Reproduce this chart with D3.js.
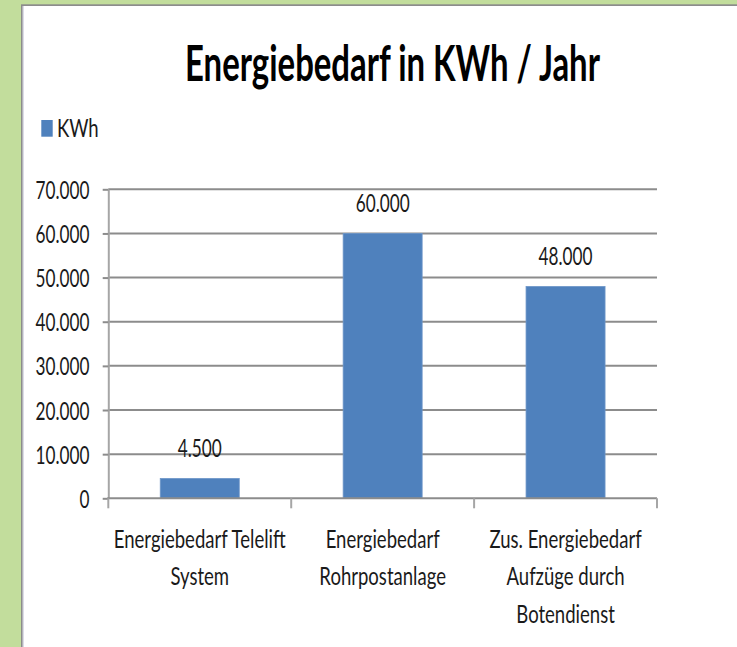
<!DOCTYPE html>
<html>
<head>
<meta charset="utf-8">
<script src="https://cdn.jsdelivr.net/npm/d3@7"></script>
<style>
  html, body { margin: 0; padding: 0; background: #ffffff; }
  svg { display: block; }
  text { font-family: Lato, "Open Sans", "Liberation Sans", sans-serif; fill: #1a1a1a; }
</style>
</head>
<body>
<svg id="chart" width="737" height="647"></svg>
<script>
// ---- data ----
const categories = ["Energiebedarf Telelift System", "Energiebedarf Rohrpostanlage", "Zus. Energiebedarf Aufzüge durch Botendienst"];
const categoryLines = [["Energiebedarf Telelift", "System"], ["Energiebedarf", "Rohrpostanlage"], ["Zus. Energiebedarf", "Aufzüge durch", "Botendienst"]];
const values = [4500, 60000, 48000];
const seriesName = "KWh";
const yTicks = [0, 10000, 20000, 30000, 40000, 50000, 60000, 70000];
const titleText = "Energiebedarf in KWh / Jahr";

// ---- layout ----
const W = 737, H = 647;
const plot = { left: 108.3, right: 657, top: 189.3, bottom: 498.3 };
const barColor = "#4f81bd";
const gridColor = "#8c8c8c";
const FS = 25, TITLE_FS = 50;

const de = d3.formatLocale({ decimal: ",", thousands: ".", grouping: [3], currency: ["", " €"] });
const fmt = de.format(",.0f");

const svg = d3.select("#chart");

// calibrate horizontal squeeze of the substitute font (original uses a narrow font)
function measure(str, size, weight) {
  const t = svg.append("text").attr("font-size", size).attr("font-weight", weight || "normal").text(str);
  const w = t.node().getComputedTextLength();
  t.remove();
  return w;
}
const SX_NUM = 54 / measure("70.000", FS);
const SX_TXT = 172 / measure("Energiebedarf Telelift", FS);
const TITLE_SX = 415 / measure(titleText, TITLE_FS, "bold");

// frame: green border with gray inner line
svg.append("rect").attr("x", 0).attr("y", 0).attr("width", W).attr("height", H).attr("fill", "#c2dd9c");
svg.append("rect").attr("x", 21).attr("y", 4.3).attr("width", W - 21).attr("height", H - 4.3).attr("fill", "#8c8c8c");
svg.append("rect").attr("x", 22.5).attr("y", 6).attr("width", W - 22.5).attr("height", H - 6).attr("fill", "#dcdce6");
svg.append("rect").attr("x", 24).attr("y", 6).attr("width", W - 24).attr("height", H - 6).attr("fill", "#ffffff");

// scales
const x = d3.scaleBand().domain(categories).range([plot.left, plot.right]).paddingInner(0.568).paddingOuter(0.284);
const xStep = d3.scaleBand().domain(categories).range([plot.left, plot.right]).padding(0);
const y = d3.scaleLinear().domain([0, 70000]).range([plot.bottom, plot.top]);

// title
svg.append("text")
  .attr("transform", `translate(${392.5},81) scale(${TITLE_SX},1)`)
  .attr("text-anchor", "middle")
  .attr("font-size", TITLE_FS)
  .attr("font-weight", "bold")
  .style("fill", "#000")
  .text(titleText);

// legend
svg.append("rect").attr("x", 41.3).attr("y", 120).attr("width", 11.4).attr("height", 16.7).attr("fill", barColor);
svg.append("text")
  .attr("transform", `translate(57,136.5) scale(${SX_TXT},1)`)
  .attr("font-size", FS)
  .text(seriesName);

// gridlines
svg.append("g").selectAll("line").data(yTicks.filter(d => d > 0)).join("line")
  .attr("x1", plot.left).attr("x2", plot.right)
  .attr("y1", d => y(d)).attr("y2", d => y(d))
  .attr("stroke", gridColor).attr("stroke-width", 2);

// y axis
const yAxis = svg.append("g").attr("transform", `translate(${plot.left},0)`)
  .call(d3.axisLeft(y).tickValues(yTicks).tickFormat(fmt).tickSize(5.6).tickSizeOuter(0));
yAxis.select(".domain").attr("stroke", "#a6a6a6").attr("stroke-width", 2);
yAxis.selectAll(".tick line").attr("stroke", gridColor).attr("stroke-width", 2);
yAxis.selectAll(".tick text")
  .attr("x", null).attr("dy", null)
  .attr("transform", `translate(-18.8,9) scale(${SX_NUM},1)`)
  .attr("font-size", FS)
  .attr("font-family", null)
  .attr("fill", null)
  .attr("text-anchor", "end");

// bars
svg.append("g").selectAll("rect").data(values).join("rect")
  .attr("x", (d, i) => x(categories[i]))
  .attr("width", x.bandwidth())
  .attr("y", d => y(d))
  .attr("height", d => y(0) - y(d))
  .attr("fill", barColor)
  .attr("stroke", "#6f97c9").attr("stroke-width", 0.8);

// data labels
svg.append("g").selectAll("text").data(values).join("text")
  .attr("transform", (d, i) => `translate(${x(categories[i]) + x.bandwidth() / 2},${y(d) - 21.5}) scale(${SX_NUM},1)`)
  .attr("text-anchor", "middle")
  .attr("font-size", FS)
  .text(d => fmt(d));

// x axis
const xAxisG = svg.append("g").attr("transform", `translate(0,${plot.bottom})`);
xAxisG.append("line").attr("x1", plot.left - 1).attr("x2", plot.right).attr("y1", 0).attr("y2", 0)
  .attr("stroke", gridColor).attr("stroke-width", 2);
const boundaries = categories.map(c => xStep(c)).concat([xStep.range()[1]]);
xAxisG.selectAll("line.tk").data(boundaries).join("line").attr("class", "tk")
  .attr("x1", d => d).attr("x2", d => d).attr("y1", 0).attr("y2", 10)
  .attr("stroke", "#a6a6a6").attr("stroke-width", 2);

// category labels
const catG = svg.append("g").selectAll("g").data(categoryLines).join("g")
  .attr("transform", (d, i) => `translate(${x(categories[i]) + x.bandwidth() / 2},0)`);
catG.selectAll("text").data(d => d).join("text")
  .attr("transform", (d, j) => `translate(0,${548 + j * 37.3}) scale(${SX_TXT},1)`)
  .attr("text-anchor", "middle")
  .attr("font-size", FS)
  .text(d => d);
</script>
</body>
</html>
